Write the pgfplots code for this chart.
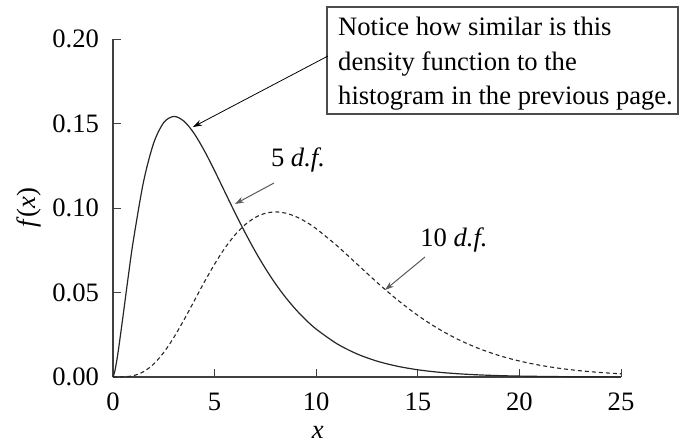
\documentclass[border=0pt]{standalone}
\usepackage{fontspec}
\setmainfont{Liberation Serif}
\usepackage{pgfplots}
\pgfplotsset{compat=1.18}
\usetikzlibrary{arrows.meta}
\begin{document}
\fontsize{26.6bp}{31bp}\selectfont
\begin{tikzpicture}
\useasboundingbox (-113bp,-66bp) rectangle (566bp,377bp);
\begin{axis}[
  scale only axis, width=508bp, height=338bp,
  xmin=0, xmax=25, ymin=0, ymax=0.2,
  axis x line*=bottom, axis y line*=left,
  axis line style={black!75, line width=1.1bp},
  tick align=inside, major tick length=8bp,
  tick style={black!75, line width=0.9bp},
  xtick={0,5,10,15,20,25}, ytick={0,0.05,0.1,0.15,0.2},
  /pgf/number format/assume math mode=true,
  ticklabel style={font=\fontsize{26.6bp}{31bp}\selectfont},
  yticklabel style={/pgf/number format/fixed, /pgf/number format/fixed zerofill, /pgf/number format/precision=2, xshift=-5bp},
  xticklabel style={yshift=-7bp},
  xlabel={\textit{x}},
  xlabel style={at={(axis description cs:0.403,0)}, anchor=base, yshift=-61bp},
  ylabel={\textit{f\/}(\textit{x})},
  ylabel style={at={(axis description cs:-0.165,0.5)}, anchor=center},
  clip=false,
]
\addplot[black!85, line width=1.2bp, smooth] coordinates {
(0,0) (0.1,0.0040) (0.25,0.01467) (0.5,0.03662) (0.75,0.05936) (1,0.08066)
(1.5,0.11540) (2,0.13837) (2.5,0.15060) (3,0.15418) (3.5,0.15131) (4,0.14398)
(4.5,0.13380) (5,0.12204) (5.5,0.10965) (6,0.09730) (6.5,0.08545) (7,0.07437)
(7.5,0.06424) (8,0.05511) (8.5,0.04701) (9,0.03989) (9.5,0.03369) (10,0.02833)
(11,0.01983) (12,0.01370) (13,0.00937) (14,0.00635) (15,0.00427) (16,0.00286)
(17,0.00190) (18,0.00125) (19,0.00082) (20,0.00054) (22,0.00023) (25,0.00006)
};
\addplot[black!85, line width=1.1bp, dash pattern=on 4bp off 3bp, smooth] coordinates {
(0,0) (0.5,0.00006) (1,0.00079) (1.5,0.00311) (2,0.00766) (2.5,0.01457) (3,0.02353)
(3.5,0.03395) (4,0.04511) (4.5,0.05628) (5,0.06680) (5.5,0.07617) (6,0.08402)
(6.5,0.09012) (7,0.09441) (7.5,0.09689) (8,0.09768) (8.5,0.09695) (9,0.09490)
(9.5,0.09176) (10,0.08773) (11,0.07791) (12,0.06693) (13,0.05591) (14,0.04561)
(15,0.03646) (16,0.02863) (17,0.02213) (18,0.01687) (19,0.01270) (20,0.00946)
(21,0.00697) (22,0.00509) (23,0.00369) (24,0.00265) (25,0.00190)
};
\end{axis}
% annotation box
\draw[black!70, line width=1.1bp] (214bp,263bp) rectangle (565bp,370bp);
\node[anchor=base west, inner sep=0pt] at (225bp,341bp) {Notice how similar is this};
\node[anchor=base west, inner sep=0pt] at (225bp,306bp) {density function to the};
\node[anchor=base west, inner sep=0pt] at (225bp,272bp) {histogram in the previous page.};
\draw[-{Stealth[length=9bp,width=6bp]}, line width=0.8bp] (215bp,321bp) -- (80bp,250bp);
% df labels
\node[anchor=base, inner sep=0pt] at (185bp,210bp) {5 \textit{d.f.}};
\draw[black!65, -{Stealth[length=9bp,width=6bp]}, line width=1bp] (161bp,194bp) -- (122bp,173bp);
\node[anchor=base, inner sep=0pt] at (341bp,130bp) {10 \textit{d.f.}};
\draw[black!65, -{Stealth[length=9bp,width=6bp]}, line width=1bp] (312bp,120bp) -- (272bp,87bp);
\end{tikzpicture}
\end{document}
